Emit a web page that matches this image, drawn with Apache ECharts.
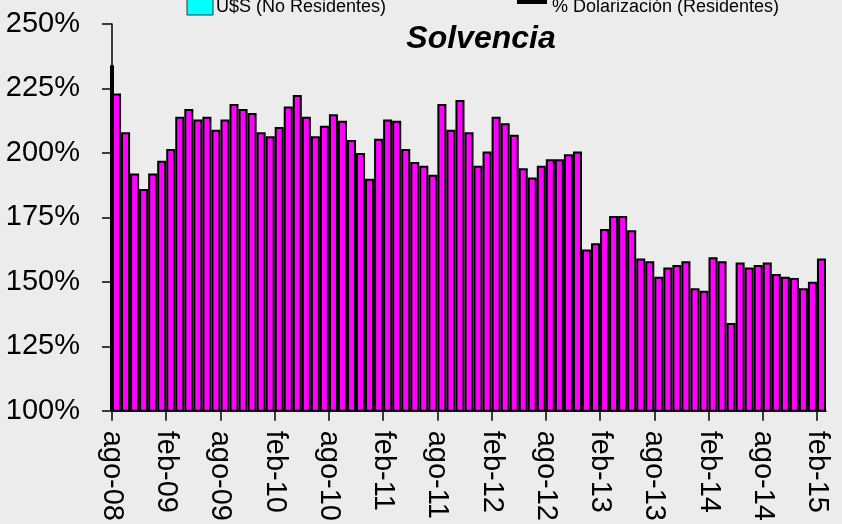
<!DOCTYPE html>
<html>
<head>
<meta charset="utf-8">
<script src="https://cdn.jsdelivr.net/npm/echarts@6/dist/echarts.min.js"></script>
<style>
  html, body { margin: 0; padding: 0; background: #ececec; }
  #chart { width: 842px; height: 524px; }
</style>
</head>
<body>
<div id="chart"></div>
<script>
// Solvencia mensual, ago-08 a feb-15 (en %)
const solvencia = [
  223, 208, 192, 186, 192, 197, 201.5, 214, 217, 213,
  214, 209, 213, 219, 217, 215.5, 208, 206.5, 210, 218,
  222.5, 214, 206.5, 210.5, 215, 212.5, 205, 200, 190, 205.5,
  213, 212.5, 201.5, 196.5, 195, 191.5, 219, 209, 220.5, 208,
  195, 200.5, 214, 211.5, 207, 194, 190.5, 195, 197.5, 197.5,
  199.5, 200.5, 162.5, 165, 170.5, 175.5, 175.5, 170, 159, 158,
  152, 155.5, 156.5, 158, 147.5, 146.5, 159.5, 158, 134, 157.5,
  155.5, 156.5, 157.5, 153, 152, 151.5, 147.5, 150, 159
];
// barra inicial pegada al eje
const spike = [234];
const tickLabels = ['ago-08', 'feb-09', 'ago-09', 'feb-10', 'ago-10', 'feb-11', 'ago-11',
  'feb-12', 'ago-12', 'feb-13', 'ago-13', 'feb-14', 'ago-14', 'feb-15'];
const monthNames = ['ene', 'feb', 'mar', 'abr', 'may', 'jun', 'jul', 'ago', 'sep', 'oct', 'nov', 'dic'];

// categorias mensuales
const months = solvencia.map((_, i) => {
  const m = (7 + i) % 12;
  const y = 8 + Math.floor((7 + i) / 12);
  return monthNames[m] + '-' + String(y).padStart(2, '0');
});
// eje de etiquetas en los bordes de las barras
const edges = Array.from({ length: solvencia.length + 1 }, (_, i) => i % 6 === 0 ? tickLabels[i / 6] : '');
const showEdge = (i) => i % 6 === 0;

const chart = echarts.init(document.getElementById('chart'));
const font = 'Liberation Sans, Arial, sans-serif';

chart.setOption({
  backgroundColor: '#ececec',
  animation: false,
  title: {
    text: 'Solvencia',
    left: 476,
    top: 18,
    textAlign: 'center',
    textStyle: { fontFamily: font, fontSize: 32, fontWeight: 'bold', fontStyle: 'italic', color: '#000' }
  },
  graphic: [
    { type: 'rect', shape: { x: 187, y: -12, width: 26, height: 27 }, style: { fill: '#00ffff', stroke: '#333', lineWidth: 1 } },
    { type: 'text', x: 216, y: 16, style: { text: 'U$S (No Residentes)', font: '18px ' + font, fill: '#000', verticalAlign: 'bottom' } },
    { type: 'rect', shape: { x: 517, y: -20, width: 30, height: 24 }, style: { fill: '#000' } },
    { type: 'text', x: 552, y: 16, style: { text: '% Dolarización (Residentes)', font: '18px ' + font, fill: '#000', verticalAlign: 'bottom' } }
  ],
  grid: { left: 112, right: 16, top: 24, bottom: 113 },
  xAxis: [
    {
      type: 'category',
      data: months,
      boundaryGap: true,
      axisLine: { show: false },
      axisTick: { show: false },
      axisLabel: { show: false }
    },
    {
      type: 'category',
      data: edges,
      boundaryGap: false,
      position: 'bottom',
      axisLine: { lineStyle: { color: '#000', width: 1.5 } },
      axisTick: { interval: showEdge, length: 10, lineStyle: { color: '#000', width: 1.5 } },
      axisLabel: {
        interval: showEdge,
        rotate: -90,
        margin: 20,
        color: '#000',
        fontFamily: font,
        fontSize: 29
      }
    }
  ],
  yAxis: {
    type: 'value',
    min: 100,
    max: 250,
    interval: 25,
    splitLine: { show: false },
    axisLine: { show: true, lineStyle: { color: '#000', width: 1.5 } },
    axisTick: { show: true, length: 10, lineStyle: { color: '#000', width: 1.5 } },
    axisLabel: {
      formatter: '{value}%',
      margin: 32,
      padding: [6, 0, 0, 0],
      color: '#000',
      fontFamily: font,
      fontSize: 29
    }
  },
  series: [
    {
      type: 'bar',
      xAxisIndex: 0,
      data: solvencia,
      barCategoryGap: '0%',
      itemStyle: { color: '#ff00ff', borderColor: '#000', borderWidth: 2 }
    },
    {
      type: 'bar',
      xAxisIndex: 1,
      data: spike,
      barWidth: 4,
      z: 3,
      itemStyle: { color: '#000' }
    }
  ]
});
</script>
</body>
</html>
